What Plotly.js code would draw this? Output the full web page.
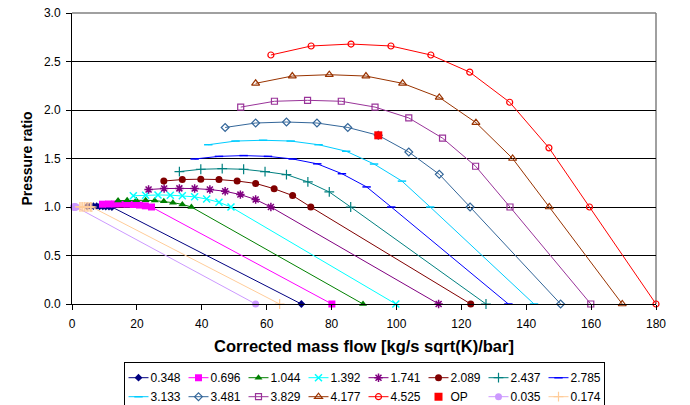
<!DOCTYPE html>
<html>
<head>
<meta charset="utf-8">
<script src="https://cdn.plot.ly/plotly-3.0.1.min.js"></script>
<style>html,body{margin:0;padding:0;background:#fff;}#chart{width:690px;height:405px;}</style>
</head>
<body>
<div id="chart"></div>
<script>
// Speed line labels (legend order)
const speedLabels = ['0.348','0.696','1.044','1.392','1.741','2.089','2.437','2.785','3.133','3.481','3.829','4.177','4.525','OP','0.035','0.174'];

// Corrected mass flow [kg/s sqrt(K)/bar] and pressure ratio per speed line
const flow_0348 = [4.7,5.7,6.6,7.6,8.5,9.5,10.4,11.4,12.3,70.7];
const pr_0348   = [1.007,1.008,1.008,1.008,1.007,1.006,1.005,1.003,1.0,0];
const flow_0696 = [9.4,11.3,13.2,15.1,17.0,18.9,20.8,22.6,24.5,80.1];
const pr_0696   = [1.029,1.031,1.031,1.031,1.029,1.026,1.020,1.012,1.0,0];
const flow_1044 = [14.2,17.0,19.8,22.7,25.5,28.3,31.1,34.0,36.8,89.7];
const pr_1044   = [1.066,1.069,1.070,1.069,1.066,1.059,1.045,1.027,1.0,0];
const flow_1392 = [18.9,22.7,26.5,30.3,34.0,37.8,41.5,45.3,49.0,99.8];
const pr_1392   = [1.116,1.122,1.124,1.122,1.116,1.105,1.082,1.049,1.0,0];
const flow_1741 = [23.6,28.4,33.1,37.8,42.5,47.2,51.9,56.6,61.3,113.0];
const pr_1741   = [1.180,1.190,1.192,1.190,1.180,1.162,1.128,1.077,1.0,0];
const flow_2089 = [28.3,34.0,39.7,45.3,50.9,56.6,62.3,68.0,73.6,122.9];
const pr_2089   = [1.268,1.283,1.287,1.283,1.268,1.243,1.188,1.118,1.0,0];
const flow_2437 = [33.1,39.7,46.3,52.9,59.5,66.1,72.7,79.3,85.9,127.6];
const pr_2437   = [1.365,1.389,1.395,1.389,1.365,1.334,1.259,1.155,1.0,0];
const flow_2785 = [37.8,45.3,52.9,60.4,68.0,75.6,83.2,90.8,98.4,134.5];
const pr_2785   = [1.495,1.522,1.530,1.522,1.495,1.445,1.343,1.207,1.0,0];
const flow_3133 = [42.0,50.4,58.9,67.4,76.0,84.5,93.1,101.7,110.4,142.4];
const pr_3133   = [1.642,1.680,1.688,1.680,1.642,1.575,1.443,1.267,1.0,0];
const flow_3481 = [47.2,56.6,66.1,75.5,85.0,94.4,103.8,113.2,122.7,150.6];
const pr_3481   = [1.820,1.866,1.876,1.866,1.820,1.739,1.567,1.337,1.0,0];
const flow_3829 = [52.0,62.4,72.6,83.0,93.4,103.8,114.2,124.4,135.0,159.9];
const pr_3829   = [2.030,2.090,2.100,2.090,2.030,1.918,1.710,1.420,1.0,0];
const flow_4177 = [56.6,67.9,79.3,90.6,101.9,113.2,124.5,135.8,147.1,169.6];
const pr_4177   = [2.275,2.350,2.364,2.350,2.275,2.130,1.870,1.500,1.0,0];
const flow_4525 = [61.3,73.7,86.0,98.3,110.6,122.6,134.9,147.0,159.5,180.0];
const pr_4525   = [2.567,2.660,2.680,2.660,2.567,2.390,2.080,1.610,1.0,0];
const flow_OP   = [94.4];
const pr_OP     = [1.739];
const flow_0035 = [0.47,0.57,0.66,0.76,0.85,0.95,1.04,1.14,1.23,56.6];
const pr_0035   = [1.0,1.0,1.0,1.0,1.0,1.0,1.0,1.0,1.0,0];
const flow_0174 = [2.4,2.8,3.3,3.8,4.3,4.7,5.2,5.7,6.1,64.0];
const pr_0174   = [1.002,1.002,1.002,1.002,1.002,1.002,1.001,1.001,1.0,0];

const xTicks = [0,20,40,60,80,100,120,140,160,180];
const yTicks = [0,0.5,1.0,1.5,2.0,2.5,3.0];

const seriesData = [
  [flow_0348, pr_0348], [flow_0696, pr_0696], [flow_1044, pr_1044], [flow_1392, pr_1392],
  [flow_1741, pr_1741], [flow_2089, pr_2089], [flow_2437, pr_2437], [flow_2785, pr_2785],
  [flow_3133, pr_3133], [flow_3481, pr_3481], [flow_3829, pr_3829], [flow_4177, pr_4177],
  [flow_4525, pr_4525], [flow_OP, pr_OP], [flow_0035, pr_0035], [flow_0174, pr_0174]
];

const styles = [
  {c:'#000080', s:'diamond', z:6},
  {c:'#FF00FF', s:'square', z:7},
  {c:'#008000', s:'triangle-up', z:7},
  {c:'#00FFFF', s:'x-thin-open', z:7, w:1.5},
  {c:'#800080', s:'asterisk-open', z:7, w:1.5},
  {c:'#800000', s:'circle', z:7},
  {c:'#008080', s:'cross-thin-open', z:7, w:1.2},
  {c:'#0000FF', s:'line-ew-open', z:6, w:1.5},
  {c:'#00CCFF', s:'line-ew-open', z:6, w:1.5},
  {c:'#336699', s:'diamond-open', z:6, w:1.2},
  {c:'#993399', s:'square-open', z:6, w:1.2},
  {c:'#993300', s:'triangle-up-open', z:7, w:1.2},
  {c:'#FF0000', s:'circle-open', z:6, w:1.2},
  {c:'#FF0000', s:'square', z:8, nl:true},
  {c:'#CC99FF', s:'circle', z:7},
  {c:'#FFCC99', s:'cross-thin-open', z:7, w:1.2}
];

const traces = seriesData.map((d, i) => {
  const st = styles[i];
  return {
    type: 'scatter',
    x: d[0], y: d[1],
    name: speedLabels[i],
    legendgroup: 'col' + (i % 8),
    mode: st.nl ? 'markers' : 'lines+markers',
    line: {color: st.c, width: 1},
    marker: {symbol: st.s, size: st.z, color: st.c, line: {color: st.c, width: st.w || 0}},
    cliponaxis: false
  };
});

const layout = {
  width: 690, height: 405,
  margin: {l: 72, r: 34, t: 13, b: 101, autoexpand: false},
  paper_bgcolor: '#fff', plot_bgcolor: '#fff',
  font: {family: 'Liberation Sans, Arial, sans-serif', size: 12, color: '#000'},
  showlegend: true,
  xaxis: {
    range: [0, 180], tickvals: xTicks, ticktext: xTicks.map(String),
    showgrid: false, zeroline: false,
    showline: true, linecolor: '#000', linewidth: 1,
    ticks: 'outside', ticklen: 5, tickcolor: '#000', ticklabelstandoff: 4,
    tickfont: {size: 12},
    title: {text: 'Corrected mass flow [kg/s sqrt(K)/bar]', font: {size: 16.5, weight: 'bold'}, standoff: 10}
  },
  yaxis: {
    range: [0, 3], tickvals: yTicks, ticktext: yTicks.map(v => v.toFixed(1)),
    showgrid: true, gridcolor: '#000', gridwidth: 1, zeroline: false,
    showline: true, linecolor: '#000', linewidth: 1,
    ticks: 'outside', ticklen: 5, tickcolor: '#000', ticklabelstandoff: 3,
    tickfont: {size: 12},
    title: {text: 'Pressure ratio', font: {size: 14, weight: 'bold'}, standoff: 8}
  },
  shapes: [
    {type: 'line', xref: 'paper', yref: 'paper', x0: 0, x1: 1, y0: 1, y1: 1, line: {color: '#808080', width: 1.5}, layer: 'above'},
    {type: 'line', xref: 'paper', yref: 'paper', x0: 1, x1: 1, y0: 0, y1: 1, line: {color: '#808080', width: 1.5}, layer: 'below'}
  ],
  legend: {
    orientation: 'h', x: 0.5, xanchor: 'center', y: -0.2, yanchor: 'top',
    traceorder: 'grouped', tracegroupgap: 0,
    bordercolor: '#000', borderwidth: 1, bgcolor: '#fff',
    font: {size: 12}, entrywidth: 15, entrywidthmode: 'pixels',
    itemwidth: 30
  }
};

Plotly.newPlot('chart', traces, layout, {displayModeBar: false, staticPlot: true}).then(gd => {
  // compact the legend entries: shorter symbol, text closer to symbol
  gd.querySelectorAll('.legend .traces').forEach(g => {
    g.querySelectorAll('.legendlines path').forEach(p => p.setAttribute('d', 'M5,0h20'));
    g.querySelectorAll('.legendsymbols path.scatterpts').forEach(p => p.setAttribute('transform', 'translate(15,0)'));
    const t = g.querySelector('text.legendtext');
    if (t) {
      t.setAttribute('x', 27);
      t.querySelectorAll('tspan').forEach(ts => { if (ts.hasAttribute('x')) ts.setAttribute('x', 27); });
    }
  });
});
</script>
</body>
</html>
